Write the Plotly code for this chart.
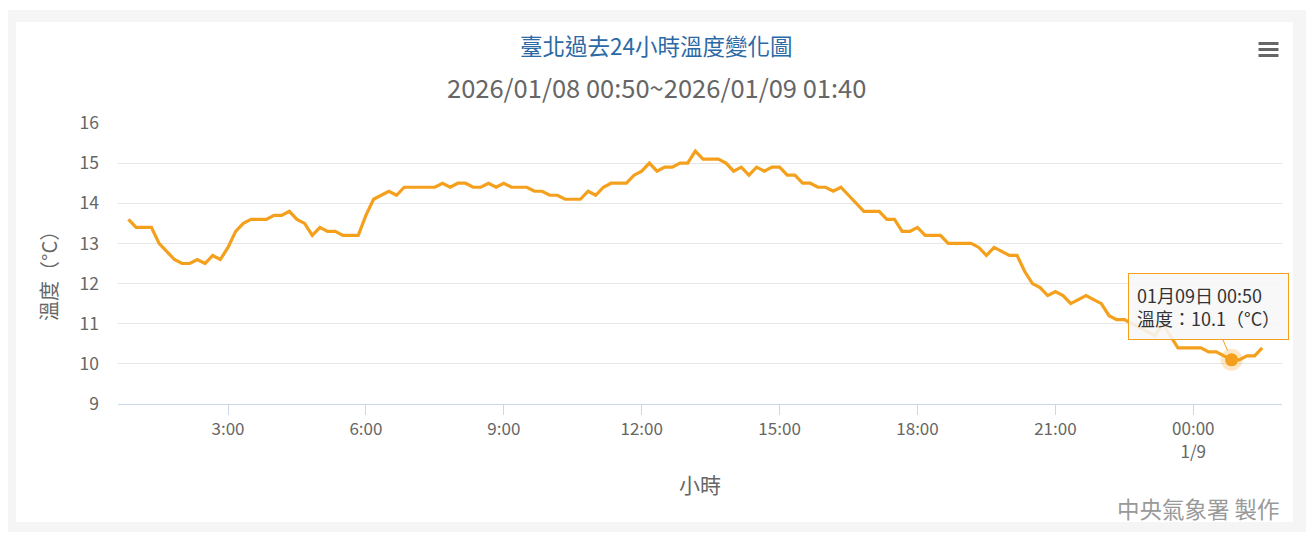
import pandas as pd
import plotly.graph_objects as go

# 臺北過去24小時溫度 (每10分鐘)
start_time = "2026-01-08 00:50"
temps = [
    13.6, 13.4, 13.4, 13.4, 13.0, 12.8, 12.6, 12.5, 12.5, 12.6,
    12.5, 12.7, 12.6, 12.9, 13.3, 13.5, 13.6, 13.6, 13.6, 13.7,
    13.7, 13.8, 13.6, 13.5, 13.2, 13.4, 13.3, 13.3, 13.2, 13.2,
    13.2, 13.7, 14.1, 14.2, 14.3, 14.2, 14.4, 14.4, 14.4, 14.4,
    14.4, 14.5, 14.4, 14.5, 14.5, 14.4, 14.4, 14.5, 14.4, 14.5,
    14.4, 14.4, 14.4, 14.3, 14.3, 14.2, 14.2, 14.1, 14.1, 14.1,
    14.3, 14.2, 14.4, 14.5, 14.5, 14.5, 14.7, 14.8, 15.0, 14.8,
    14.9, 14.9, 15.0, 15.0, 15.3, 15.1, 15.1, 15.1, 15.0, 14.8,
    14.9, 14.7, 14.9, 14.8, 14.9, 14.9, 14.7, 14.7, 14.5, 14.5,
    14.4, 14.4, 14.3, 14.4, 14.2, 14.0, 13.8, 13.8, 13.8, 13.6,
    13.6, 13.3, 13.3, 13.4, 13.2, 13.2, 13.2, 13.0, 13.0, 13.0,
    13.0, 12.9, 12.7, 12.9, 12.8, 12.7, 12.7, 12.3, 12.0, 11.9,
    11.7, 11.8, 11.7, 11.5, 11.6, 11.7, 11.6, 11.5, 11.2, 11.1,
    11.1, 11.0, 10.9, 10.8, 10.7, 11.0, 10.7, 10.4, 10.4, 10.4,
    10.4, 10.3, 10.3, 10.2, 10.1, 10.1, 10.2, 10.2, 10.4,
]
times = pd.date_range(start_time, periods=len(temps), freq="10min")

tick_vals = ["2026-01-08 03:00", "2026-01-08 06:00", "2026-01-08 09:00", "2026-01-08 12:00",
             "2026-01-08 15:00", "2026-01-08 18:00", "2026-01-08 21:00", "2026-01-09 00:00"]
tick_text = ["3:00", "6:00", "9:00", "12:00", "15:00", "18:00", "21:00", "00:00<br>1/9"]
y_ticks = [9, 10, 11, 12, 13, 14, 15, 16]

hover_idx = 144  # 01月09日 00:50

FONT = "Noto Sans CJK TC, Noto Sans, sans-serif"
ORANGE = "#f4a01c"

# 頁面有 8px 的 body margin, 座標以參考圖的像素換算
OFF = 8
W, H = 1306, 531
L, R, T, B = 110, 32, 115, 135
pw, ph = W - L - R, H - T - B


def px(x):
    return (x - OFF - L) / pw


def py(y):
    return (H - B - (y - OFF)) / ph


def label(text, x, y, size, color, xanchor="center", angle=0):
    fig.add_annotation(text=text, xref="paper", yref="paper", x=px(x), y=py(y),
                       xanchor=xanchor, yanchor="middle", textangle=angle,
                       showarrow=False, font=dict(family=FONT, size=size, color=color))


fig = go.Figure()

fig.add_trace(go.Scatter(
    x=times, y=temps, mode="lines", name="溫度",
    line=dict(color=ORANGE, width=3.2), hoverinfo="skip", showlegend=False
))

# hover 點 (光暈 + 圓點)
fig.add_trace(go.Scatter(
    x=[times[hover_idx]], y=[temps[hover_idx]], mode="markers",
    marker=dict(size=22, color="rgba(244,160,28,0.25)"), hoverinfo="skip", showlegend=False
))
fig.add_trace(go.Scatter(
    x=[times[hover_idx]], y=[temps[hover_idx]], mode="markers",
    marker=dict(size=13, color=ORANGE), hoverinfo="skip", showlegend=False
))

# 背景框
fig.add_shape(type="rect", xref="paper", yref="paper", layer="below",
              x0=px(4), x1=px(1330), y0=py(532), y1=py(10),
              fillcolor="#f5f5f5", line_width=0)
fig.add_shape(type="rect", xref="paper", yref="paper", layer="below",
              x0=px(16), x1=px(1293), y0=py(522), y1=py(22),
              fillcolor="white", line_width=0)

# 選單圖示
for yy in [43.5, 49.5, 55.5]:
    fig.add_shape(type="line", xref="paper", yref="paper",
                  x0=px(1258.5), x1=px(1278.5), y0=py(yy), y1=py(yy),
                  line=dict(color="#666666", width=3))

t = hover_idx
fig.add_annotation(
    x=times[t], y=temps[t], xref="x", yref="y",
    text=f"01月09日 00:50<br>溫度：{temps[t]}（°C）",
    align="left", showarrow=True, arrowhead=0, arrowwidth=1, arrowcolor=ORANGE,
    ax=-23, ay=-53, standoff=10,
    bgcolor="rgba(247,247,247,0.88)", bordercolor=ORANGE, borderwidth=1, borderpad=8,
    font=dict(family=FONT, size=18, color="#333333")
)

# 標題與文字
label("臺北過去24小時溫度變化圖", 656, 45, 22.5, "#2c6aa6")
label("2026/01/08 00:50~2026/01/09 01:40", 656, 86, 25.5, "#666666")
label("溫度（°C）", 48, 271, 20, "#666666", angle=-90)
label("小時", 700, 484, 21, "#666666")
label("中央氣象署 製作", 1282, 508, 22.5, "#999999", xanchor="right")

fig.update_xaxes(
    range=["2026-01-08 00:36:24", "2026-01-09 01:55:48"],
    tickvals=tick_vals, ticktext=tick_text,
    showgrid=False, showline=True, linecolor="#ccd6eb", linewidth=1,
    ticks="outside", ticklen=10, tickcolor="#ccd6eb",
    tickfont=dict(family=FONT, size=17, color="#666666"),
    zeroline=False, fixedrange=True
)
fig.update_yaxes(
    range=[9, 16], tickvals=y_ticks,
    showgrid=True, gridcolor="#e6e6e6", gridwidth=1,
    showline=False, zeroline=False, ticks="", ticklabelstandoff=18,
    tickfont=dict(family=FONT, size=17.5, color="#666666"), fixedrange=True
)

fig.update_layout(
    width=W, height=H,
    margin=dict(l=L, r=R, t=T, b=B),
    paper_bgcolor="white", plot_bgcolor="white",
    showlegend=False,
    font=dict(family=FONT)
)

fig.write_html("out.html")
